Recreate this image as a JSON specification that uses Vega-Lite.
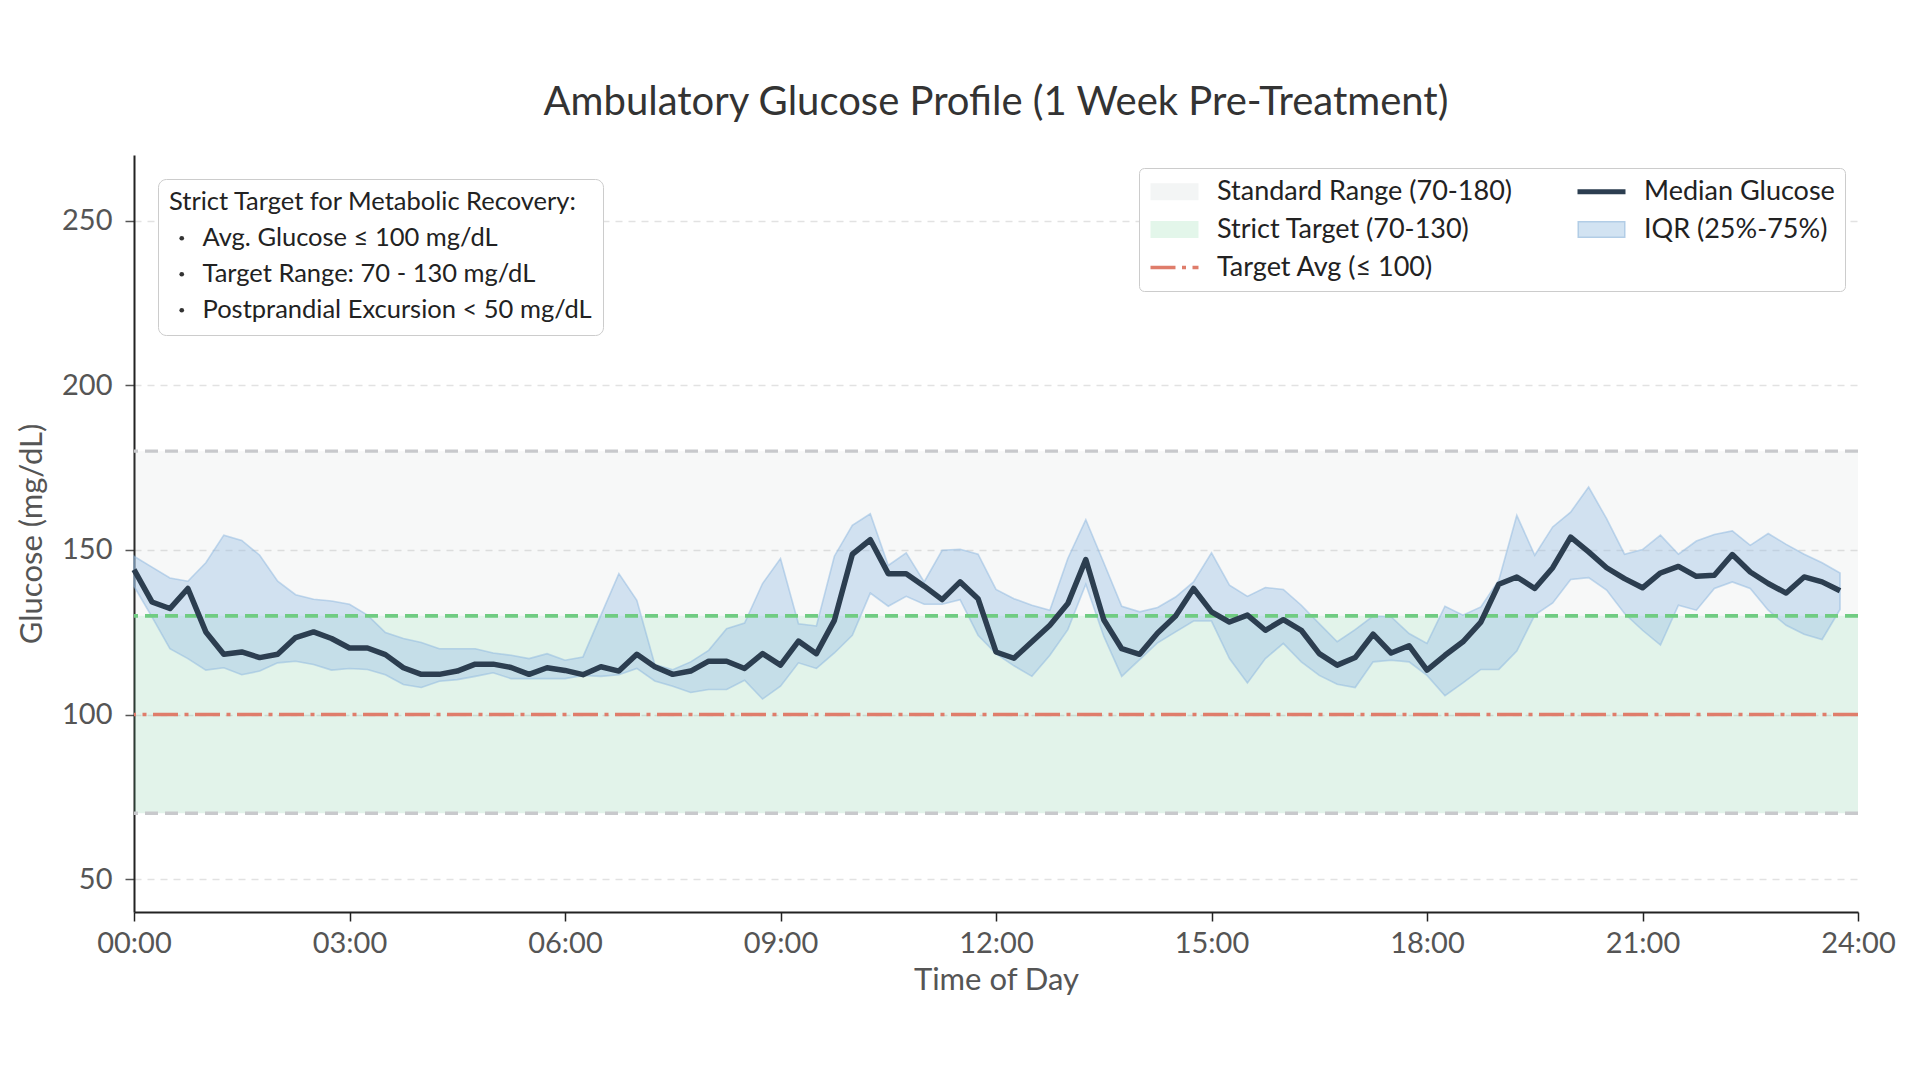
{
  "$schema": "https://vega.github.io/schema/vega-lite/v6.json",
  "width": 1724,
  "height": 757,
  "autosize": {"type": "none"},
  "padding": {"left": 134, "top": 155, "right": 62, "bottom": 168},
  "background": "#ffffff",
  "title": {
    "text": "Ambulatory Glucose Profile (1 Week Pre-Treatment)",
    "anchor": "middle",
    "font": "Lato",
    "fontSize": 40,
    "fontWeight": "normal",
    "color": "#333333",
    "baseline": "alphabetic",
    "offset": 0
  },
  "datasets": {
    "profile": [
      {"hour": 0, "median": 144.0, "p25": 139.0, "p75": 148.1},
      {"hour": 0.25, "median": 134.2, "p25": 129.7, "p75": 144.8},
      {"hour": 0.5, "median": 132.2, "p25": 120.0, "p75": 141.5},
      {"hour": 0.75, "median": 138.3, "p25": 117.0, "p75": 140.5},
      {"hour": 1, "median": 125.1, "p25": 113.5, "p75": 146.1},
      {"hour": 1.25, "median": 118.3, "p25": 114.2, "p75": 154.5},
      {"hour": 1.5, "median": 119.0, "p25": 112.1, "p75": 152.9},
      {"hour": 1.75, "median": 117.3, "p25": 113.2, "p75": 148.4},
      {"hour": 2, "median": 118.3, "p25": 115.7, "p75": 140.5},
      {"hour": 2.25, "median": 123.4, "p25": 116.2, "p75": 136.4},
      {"hour": 2.5, "median": 125.1, "p25": 115.2, "p75": 135.0},
      {"hour": 2.75, "median": 123.1, "p25": 113.5, "p75": 134.5},
      {"hour": 3, "median": 120.2, "p25": 114.0, "p75": 133.5},
      {"hour": 3.25, "median": 120.2, "p25": 113.7, "p75": 130.2},
      {"hour": 3.5, "median": 118.2, "p25": 112.1, "p75": 124.9},
      {"hour": 3.75, "median": 114.2, "p25": 109.1, "p75": 123.1},
      {"hour": 4, "median": 112.2, "p25": 108.2, "p75": 121.9},
      {"hour": 4.25, "median": 112.2, "p25": 110.1, "p75": 120.0},
      {"hour": 4.5, "median": 113.2, "p25": 110.6, "p75": 120.0},
      {"hour": 4.75, "median": 115.3, "p25": 111.6, "p75": 120.0},
      {"hour": 5, "median": 115.3, "p25": 112.7, "p75": 118.7},
      {"hour": 5.25, "median": 114.3, "p25": 110.9, "p75": 118.0},
      {"hour": 5.5, "median": 112.2, "p25": 110.9, "p75": 117.0},
      {"hour": 5.75, "median": 114.2, "p25": 110.9, "p75": 118.5},
      {"hour": 6, "median": 113.4, "p25": 110.9, "p75": 116.5},
      {"hour": 6.25, "median": 112.1, "p25": 111.9, "p75": 117.5},
      {"hour": 6.5, "median": 114.5, "p25": 111.6, "p75": 130.2},
      {"hour": 6.75, "median": 113.2, "p25": 112.1, "p75": 142.8},
      {"hour": 7, "median": 118.3, "p25": 114.0, "p75": 134.7},
      {"hour": 7.25, "median": 114.5, "p25": 110.2, "p75": 115.2},
      {"hour": 7.5, "median": 112.2, "p25": 108.6, "p75": 113.6},
      {"hour": 7.75, "median": 113.2, "p25": 106.7, "p75": 116.0},
      {"hour": 8, "median": 116.2, "p25": 107.6, "p75": 119.5},
      {"hour": 8.25, "median": 116.2, "p25": 107.6, "p75": 126.1},
      {"hour": 8.5, "median": 114.0, "p25": 110.4, "p75": 127.8},
      {"hour": 8.75, "median": 118.5, "p25": 104.7, "p75": 139.8},
      {"hour": 9, "median": 115.0, "p25": 108.6, "p75": 147.4},
      {"hour": 9.25, "median": 122.3, "p25": 115.7, "p75": 127.6},
      {"hour": 9.5, "median": 118.5, "p25": 114.0, "p75": 126.9},
      {"hour": 9.75, "median": 128.6, "p25": 118.7, "p75": 148.1},
      {"hour": 10, "median": 148.7, "p25": 124.1, "p75": 157.5},
      {"hour": 10.25, "median": 153.1, "p25": 136.9, "p75": 161.0},
      {"hour": 10.5, "median": 142.8, "p25": 132.9, "p75": 145.3},
      {"hour": 10.75, "median": 142.8, "p25": 135.9, "p75": 149.1},
      {"hour": 11, "median": 139.0, "p25": 133.5, "p75": 140.3},
      {"hour": 11.25, "median": 134.9, "p25": 133.5, "p75": 149.9},
      {"hour": 11.5, "median": 140.3, "p25": 134.9, "p75": 150.2},
      {"hour": 11.75, "median": 135.2, "p25": 124.1, "p75": 148.7},
      {"hour": 12, "median": 119.0, "p25": 118.5, "p75": 138.0},
      {"hour": 12.25, "median": 117.1, "p25": 114.8, "p75": 135.2},
      {"hour": 12.5, "median": 122.1, "p25": 111.6, "p75": 133.2},
      {"hour": 12.75, "median": 127.1, "p25": 118.0, "p75": 131.7},
      {"hour": 13, "median": 133.7, "p25": 125.8, "p75": 147.4},
      {"hour": 13.25, "median": 147.1, "p25": 139.6, "p75": 159.2},
      {"hour": 13.5, "median": 128.8, "p25": 123.8, "p75": 146.1},
      {"hour": 13.75, "median": 120.0, "p25": 111.6, "p75": 132.9},
      {"hour": 14, "median": 118.3, "p25": 116.7, "p75": 131.2},
      {"hour": 14.25, "median": 124.8, "p25": 121.8, "p75": 132.5},
      {"hour": 14.5, "median": 129.9, "p25": 125.1, "p75": 135.7},
      {"hour": 14.75, "median": 138.3, "p25": 128.4, "p75": 140.3},
      {"hour": 15, "median": 131.2, "p25": 128.4, "p75": 149.1},
      {"hour": 15.25, "median": 128.1, "p25": 117.0, "p75": 139.3},
      {"hour": 15.5, "median": 130.2, "p25": 109.6, "p75": 135.9},
      {"hour": 15.75, "median": 125.6, "p25": 117.0, "p75": 138.6},
      {"hour": 16, "median": 128.8, "p25": 121.6, "p75": 138.0},
      {"hour": 16.25, "median": 125.6, "p25": 116.0, "p75": 133.2},
      {"hour": 16.5, "median": 118.5, "p25": 111.9, "p75": 127.6},
      {"hour": 16.75, "median": 115.0, "p25": 109.2, "p75": 122.1},
      {"hour": 17, "median": 117.3, "p25": 108.2, "p75": 125.8},
      {"hour": 17.25, "median": 124.4, "p25": 116.0, "p75": 129.9},
      {"hour": 17.5, "median": 118.7, "p25": 116.5, "p75": 129.7},
      {"hour": 17.75, "median": 120.9, "p25": 116.0, "p75": 124.6},
      {"hour": 18, "median": 113.5, "p25": 111.9, "p75": 121.6},
      {"hour": 18.25, "median": 118.0, "p25": 105.7, "p75": 132.9},
      {"hour": 18.5, "median": 122.1, "p25": 109.6, "p75": 130.2},
      {"hour": 18.75, "median": 128.1, "p25": 113.7, "p75": 132.7},
      {"hour": 19, "median": 139.6, "p25": 113.7, "p75": 140.8},
      {"hour": 19.25, "median": 141.8, "p25": 119.3, "p75": 160.5},
      {"hour": 19.5, "median": 138.3, "p25": 130.2, "p75": 148.4},
      {"hour": 19.75, "median": 144.6, "p25": 133.9, "p75": 157.0},
      {"hour": 20, "median": 153.9, "p25": 141.0, "p75": 161.5},
      {"hour": 20.25, "median": 149.4, "p25": 141.6, "p75": 169.1},
      {"hour": 20.5, "median": 144.6, "p25": 137.8, "p75": 159.5},
      {"hour": 20.75, "median": 141.3, "p25": 130.7, "p75": 148.7},
      {"hour": 21, "median": 138.5, "p25": 125.6, "p75": 150.1},
      {"hour": 21.25, "median": 143.0, "p25": 121.1, "p75": 154.5},
      {"hour": 21.5, "median": 145.0, "p25": 133.2, "p75": 148.7},
      {"hour": 21.75, "median": 142.0, "p25": 131.7, "p75": 152.7},
      {"hour": 22, "median": 142.3, "p25": 138.3, "p75": 154.7},
      {"hour": 22.25, "median": 148.6, "p25": 140.3, "p75": 155.8},
      {"hour": 22.5, "median": 143.3, "p25": 138.3, "p75": 151.4},
      {"hour": 22.75, "median": 139.8, "p25": 131.7, "p75": 155.0},
      {"hour": 23, "median": 136.9, "p25": 127.1, "p75": 151.7},
      {"hour": 23.25, "median": 141.8, "p25": 124.4, "p75": 148.7},
      {"hour": 23.5, "median": 140.3, "p25": 122.8, "p75": 146.1},
      {"hour": 23.75, "median": 137.6, "p25": 131.9, "p75": 143.0}
    ]
  },
  "layer": [
    {
      "data": {"values": [{"band": "Standard Range (70-180)", "lo": 70, "hi": 180}]},
      "mark": {"type": "rect", "color": "#95a5a6", "opacity": 0.08},
      "encoding": {
        "y": {"field": "lo", "type": "quantitative", "scale": {"domain": [40, 270], "nice": false, "zero": false}, "axis": {"title": "Glucose (mg/dL)"}},
        "y2": {"field": "hi"}
      }
    },
    {
      "data": {"values": [{"band": "Strict Target (70-130)", "lo": 70, "hi": 130}]},
      "mark": {"type": "rect", "color": "#2ecc71", "opacity": 0.1},
      "encoding": {
        "y": {"field": "lo", "type": "quantitative", "scale": {"domain": [40, 270], "nice": false, "zero": false}, "axis": {"title": "Glucose (mg/dL)"}},
        "y2": {"field": "hi"}
      }
    },
    {
      "data": {"name": "profile"},
      "mark": {"type": "area", "color": "#9ec1e4", "fillOpacity": 0.42, "stroke": "#8db8e0", "strokeOpacity": 0.5, "strokeWidth": 1.6},
      "encoding": {
        "x": {"field": "hour", "type": "quantitative", "scale": {"domain": [0, 24], "nice": false, "zero": false}, "axis": {"title": "Time of Day", "values": [0, 3, 6, 9, 12, 15, 18, 21, 24], "labelExpr": "(datum.value < 10 ? '0' : '') + datum.value + ':00'", "labelFlush": false}},
        "y": {"field": "p75", "type": "quantitative", "scale": {"domain": [40, 270], "nice": false, "zero": false}, "axis": {"title": "Glucose (mg/dL)"}},
        "y2": {"field": "p25"}
      }
    },
    {
      "data": {"values": [{"limit": "standard low", "y": 70}, {"limit": "standard high", "y": 180}]},
      "mark": {"type": "rule", "color": "#c8c9cc", "strokeWidth": 3.3, "strokeDash": [13, 7]},
      "encoding": {
        "y": {"field": "y", "type": "quantitative", "scale": {"domain": [40, 270], "nice": false, "zero": false}, "axis": {"title": "Glucose (mg/dL)"}}
      }
    },
    {
      "data": {"values": [{"limit": "strict high", "y": 130}]},
      "mark": {"type": "rule", "color": "#70cc82", "strokeWidth": 3.8, "strokeDash": [13, 7]},
      "encoding": {
        "y": {"field": "y", "type": "quantitative", "scale": {"domain": [40, 270], "nice": false, "zero": false}, "axis": {"title": "Glucose (mg/dL)"}}
      }
    },
    {
      "data": {"values": [{"limit": "target average", "y": 100}]},
      "mark": {"type": "rule", "color": "#df7d6b", "strokeWidth": 3.3, "strokeDash": [25, 6.5, 4, 6.5]},
      "encoding": {
        "y": {"field": "y", "type": "quantitative", "scale": {"domain": [40, 270], "nice": false, "zero": false}, "axis": {"title": "Glucose (mg/dL)"}}
      }
    },
    {
      "data": {"name": "profile"},
      "mark": {"type": "line", "color": "#2c3e50", "strokeWidth": 5.5, "strokeJoin": "round"},
      "encoding": {
        "x": {"field": "hour", "type": "quantitative", "scale": {"domain": [0, 24], "nice": false, "zero": false}, "axis": {"title": "Time of Day", "values": [0, 3, 6, 9, 12, 15, 18, 21, 24], "labelExpr": "(datum.value < 10 ? '0' : '') + datum.value + ':00'", "labelFlush": false}},
        "y": {"field": "median", "type": "quantitative", "scale": {"domain": [40, 270], "nice": false, "zero": false}, "axis": {"title": "Glucose (mg/dL)"}}
      }
    },
    {
      "data": {"values": [
        {"series": "Standard Range (70-180)"},
        {"series": "Strict Target (70-130)"},
        {"series": "Target Avg (≤ 100)"},
        {"series": "Median Glucose"},
        {"series": "IQR (25%-75%)"}
      ]},
      "mark": {"type": "point", "filled": true, "opacity": 0},
      "encoding": {
        "color": {
          "field": "series", "type": "nominal",
          "scale": {
            "domain": ["Standard Range (70-180)", "Strict Target (70-130)", "Target Avg (≤ 100)", "Median Glucose", "IQR (25%-75%)"],
            "range": ["#f3f5f5", "#e3f6ea", "#df7d6b", "#2c3e50", "#d2e3f2"]
          },
          "legend": {
            "orient": "top-right", "offset": 13, "columns": 2, "title": null,
            "labelFont": "Lato", "labelFontSize": 27, "labelColor": "#222222", "labelLimit": 600,
            "symbolSize": 289, "symbolStrokeWidth": 1.5, "symbolOpacity": 1,
            "symbolStrokeColor": "#ffffff",
            "symbolOffset": 12, "labelOffset": 29,
            "rowPadding": 10, "columnPadding": 62, "padding": 10,
            "strokeColor": "#cccccc", "fillColor": "#ffffff", "cornerRadius": 5,
            "encoding": {
              "symbols": {
                "fill": {"value": {"expr": "scale('color', datum.value)"}},
                "stroke": {"value": {"expr": "scale('stroke', datum.value)"}}
              }
            }
          }
        },
        "stroke": {
          "field": "series", "type": "nominal",
          "scale": {
            "domain": ["Standard Range (70-180)", "Strict Target (70-130)", "Target Avg (≤ 100)", "Median Glucose", "IQR (25%-75%)"],
            "range": ["#f3f5f5", "#e3f6ea", "#df7d6b", "#2c3e50", "#b2cde6"]
          }
        },
        "shape": {
          "field": "series", "type": "nominal",
          "scale": {
            "domain": ["Standard Range (70-180)", "Strict Target (70-130)", "Target Avg (≤ 100)", "Median Glucose", "IQR (25%-75%)"],
            "range": [
              "M-2.735,-0.912H2.735V0.912H-2.735Z",
              "M-2.735,-0.912H2.735V0.912H-2.735Z",
              "M-2.735,-0.106H0.029V0.106H-2.735Z M0.971,-0.106H1.265V0.106H0.971Z M2.206,-0.106H2.735V0.106H2.206Z",
              "M-2.735,-0.206H2.735V0.206H-2.735Z",
              "M-2.735,-0.912H2.735V0.912H-2.735Z"
            ]
          }
        }
      }
    },
    {
      "data": {"values": [
        {"note": "Avg. Glucose ≤ 100 mg/dL"},
        {"note": "Target Range: 70 - 130 mg/dL"},
        {"note": "Postprandial Excursion < 50 mg/dL"}
      ]},
      "mark": {"type": "point", "filled": true, "color": "#333333", "opacity": 0},
      "encoding": {
        "size": {
          "field": "note", "type": "ordinal",
          "scale": {"domain": ["Avg. Glucose ≤ 100 mg/dL", "Target Range: 70 - 130 mg/dL", "Postprandial Excursion < 50 mg/dL"], "range": [22, 22]},
          "legend": {
            "orient": "top-left", "offset": 24,
            "title": "Strict Target for Metabolic Recovery:",
            "titleFont": "Lato", "titleFontSize": 25.5, "titleFontWeight": "normal", "titleColor": "#222222", "titlePadding": 10, "titleLimit": 600,
            "labelFont": "Lato", "labelFontSize": 25.5, "labelColor": "#222222", "labelLimit": 600,
            "symbolType": "circle", "symbolFillColor": "#333333", "symbolStrokeWidth": 0, "symbolOpacity": 1,
            "symbolOffset": 0, "labelOffset": 8, "rowPadding": 9, "padding": 11,
            "strokeColor": "#cccccc", "fillColor": "#ffffff", "cornerRadius": 8
          }
        }
      }
    }
  ],
  "config": {
    "font": "Lato",
    "view": {"stroke": null},
    "axis": {
      "labelFont": "Lato", "titleFont": "Lato",
      "labelFontSize": 29, "titleFontSize": 31,
      "labelColor": "#555555", "titleColor": "#555555", "titleFontWeight": "normal",
      "domainColor": "#222222", "domainWidth": 2,
      "tickSize": 9, "tickWidth": 1.5
    },
    "axisX": {"grid": false, "tickColor": "#222222", "labelPadding": 8, "titlePadding": 7},
    "axisY": {"grid": true, "gridColor": "#e2e2e2", "gridDash": [7, 6], "gridWidth": 1.3, "tickColor": "#555555", "tickCount": 5, "labelPadding": 13, "titlePadding": 13}
  }
}
